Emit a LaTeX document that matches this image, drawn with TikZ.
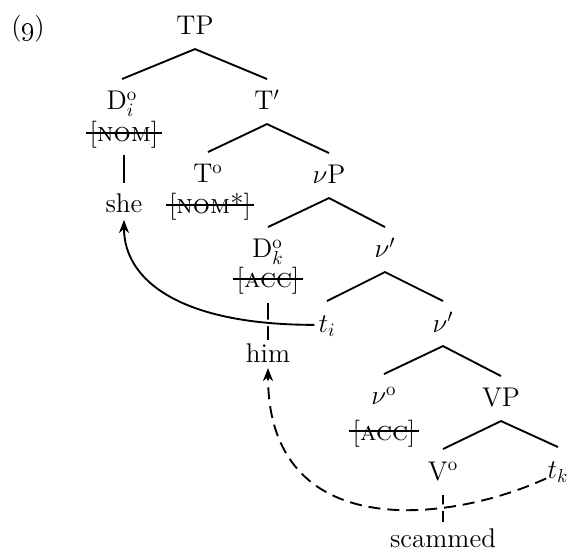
\documentclass[tikz,border=0pt]{standalone}
\usetikzlibrary{arrows.meta}
\begin{document}
\begin{tikzpicture}[
  x=0.533pt, y=-0.533pt,
  every node/.style={inner sep=0pt, font=\fontsize{14.4}{17}\selectfont},
  lbl/.style={anchor=base, text height=9.6pt, text depth=0pt},
  feat/.style={anchor=base},
  branch/.style={line width=1pt, line join=miter},
  stem/.style={line width=1pt},
  strike/.style={line width=1pt},
  halo/.style={preaction={draw=white, line width=3.4pt, solid, arrows=-}},
  move/.style={line width=1pt, halo, -{Stealth[length=7pt, width=5.4pt, inset=2.2pt]}},
  dashmove/.style={move, dash pattern=on 6.4pt off 3.7pt}
]
\useasboundingbox (0,0) rectangle (570,554);

% example number
\node[anchor=base] (ex) at (28,36) {(\oldstylenums{9})};

% labels of the tree
\node[lbl] (TP)    at (195,35)  {TP};
\node[lbl] (Di)    at (122,110) {D$^{\mathrm{o}}_{i}$};
\node[lbl] (Tbar)  at (267,110) {T$'$};
\node[feat] (nom1) at (124,142) {[\textsc{nom}]};
\node[lbl] (she)   at (124,213) {she};
\node[lbl] (To)    at (208,183) {T$^{\mathrm{o}}$};
\node[feat] (nom2) at (210,214) {[\textsc{nom}*]};
\node[lbl] (vP)    at (329,184) {$\nu$P};
\node[lbl] (Dk)    at (268,258) {D$^{\mathrm{o}}_{k}$};
\node[feat] (acc1) at (268,288) {[\textsc{acc}]};
\node[lbl] (vbarA) at (385,258) {$\nu'$};
\node[lbl] (ti)    at (327,332) {$t_i$};
\node[lbl] (vbarB) at (443,332) {$\nu'$};
\node[lbl] (him)   at (268,363) {him};
\node[lbl] (vo)    at (384,405) {$\nu^{\mathrm{o}}$};
\node[feat] (acc2) at (384,440) {[\textsc{acc}]};
\node[lbl] (VP)    at (501,407) {VP};
\node[lbl] (Vo)    at (443,480) {V$^{\mathrm{o}}$};
\node[lbl] (tk)    at (558,478) {$t_k$};
\node[lbl] (scammed) at (443,547) {scammed};

% struck-out features
\foreach \n in {nom1,nom2,acc1,acc2}
  \draw[strike] ([xshift=-1.6pt,yshift=4.6pt]\n.base west) -- ([xshift=1.6pt,yshift=4.6pt]\n.base east);

% branches
\draw[branch] ([yshift=6.7pt]Di.north)    -- ([yshift=-7.5pt]TP.base)    -- ([yshift=6.7pt]Tbar.north);
\draw[branch] ([yshift=6.7pt]To.north)    -- ([yshift=-7.5pt]Tbar.base)  -- ([yshift=6.7pt]vP.north);
\draw[branch] ([yshift=6.7pt]Dk.north)    -- ([yshift=-7.5pt]vP.base)    -- ([yshift=6.7pt]vbarA.north);
\draw[branch] ([yshift=6.7pt]ti.north)    -- ([yshift=-7.5pt]vbarA.base) -- ([yshift=6.7pt]vbarB.north);
\draw[branch] ([yshift=6.7pt]vo.north)    -- ([yshift=-7.5pt]vbarB.base) -- ([yshift=6.7pt]VP.north);
\draw[branch] ([yshift=6.7pt]Vo.north)    -- ([yshift=-7.5pt]VP.base)    -- ([yshift=6.7pt]tk.north);

% heads to their words (kept vertical)
\draw[stem] ([yshift=-6.9pt]nom1.base) -- ([yshift=-6.9pt]nom1.base -| she.base) -- ([yshift=16pt]she.base);
\draw[stem] ([yshift=-8pt]acc1.base)   -- ([yshift=12.3pt]him.base);
\draw[stem] ([yshift=-8pt]Vo.base)     -- ([yshift=13.3pt]scammed.base);

% movement
\draw[move] ([xshift=-2pt,yshift=-1pt]ti.west)
  .. controls +(-135,0) and +(0,60) .. ([yshift=-3.7pt]she.base);
\draw[dashmove] ([xshift=-0.5pt]tk.south west)
  .. controls +(-98,45) and +(0,176) .. ([yshift=-2.7pt]him.base);
\end{tikzpicture}
\end{document}
